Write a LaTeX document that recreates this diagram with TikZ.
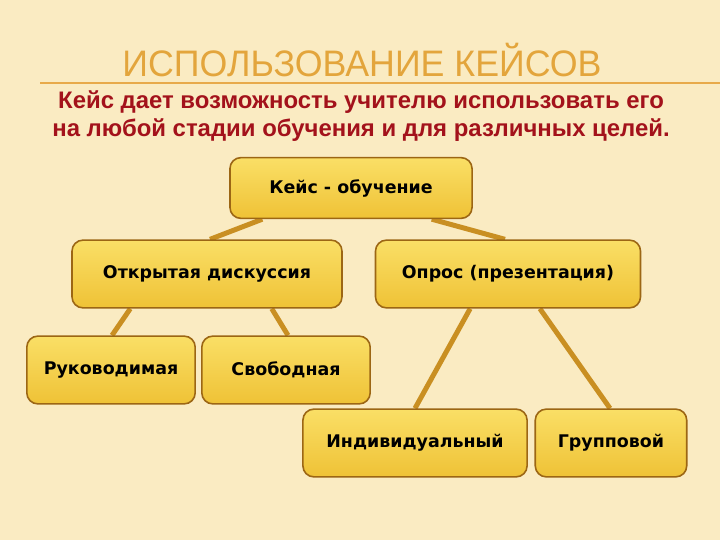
\documentclass[tikz,border=0pt]{standalone}
\usepackage{fontspec}
\setmainfont{Liberation Sans}
\newfontfamily\boxfont{DejaVu Sans}
\usetikzlibrary{positioning}
\pgfdeclarelayer{bg}
\pgfsetlayers{bg,main}
\definecolor{paper}{HTML}{FAEBC2}
\definecolor{titlegold}{HTML}{E3A53C}
\definecolor{rulegold}{HTML}{E8AA4A}
\definecolor{subred}{HTML}{A3121B}
\definecolor{linkgold}{HTML}{C98F22}
\definecolor{boxedge}{HTML}{9C6614}
\definecolor{boxtop}{HTML}{FADF66}
\definecolor{boxbot}{HTML}{EFC236}
\tikzset{casebox/.style = {draw=boxedge, line width=1.6pt, rounded corners=11pt,
                           top color=boxtop, bottom color=boxbot,
                           font=\boxfont\bfseries\fontsize{17.5}{20}\selectfont,
                           inner sep=0pt, text=black},
         link/.style = {linkgold, line width=5pt}}

\begin{document}
\begin{tikzpicture}[x=1bp, y=-1bp]
    \begin{pgfonlayer}{bg}
      \fill [paper] (0, 0) rectangle (720, 540);
    \end{pgfonlayer}
    \useasboundingbox (0, 0) rectangle (720, 540);

    \node (title) at (362, 60) [titlegold, font=\fontsize{37}{40}\selectfont]
        {\scalebox{0.97}[1]{ИСПОЛЬЗОВАНИЕ КЕЙСОВ}};
    \draw [rulegold, line width=1.5pt] (40, 83) -- (720, 83);
    \node (sub) at (361, 116) [subred, align=center,
        font=\bfseries\fontsize{24}{28}\selectfont]
        {Кейс дает возможность учителю использовать его\\
         на любой стадии обучения и для различных целей.};

    \node (kejs) at (351, 188) [casebox, minimum width=243, minimum height=61] {Кейс - обучение};
    \node (otkr) at (207, 274) [casebox, minimum width=271, minimum height=68] {Открытая дискуссия};
    \node (opros) at (508, 274) [casebox, minimum width=266, minimum height=68] {Опрос (презентация)};
    \node (ruk) at (111, 370) [casebox, minimum width=169, minimum height=68] {Руководимая};
    \node (svob) at (286, 370) [casebox, minimum width=169, minimum height=68] {Свободная};
    \node (ind) at (415, 443) [casebox, minimum width=225, minimum height=68] {Индивидуальный};
    \node (grup) at (611, 443) [casebox, minimum width=152, minimum height=68] {Групповой};

    \begin{pgfonlayer}{bg}
      \draw [link] ([xshift=-89]kejs.south) -- ([xshift=3]otkr.north);
      \draw [link] ([xshift=81]kejs.south) -- ([xshift=-3]opros.north);
      \draw [link] ([xshift=-77]otkr.south) -- ([xshift=1]ruk.north);
      \draw [link] ([xshift=65]otkr.south) -- ([xshift=2]svob.north);
      \draw [link] ([xshift=-38]opros.south) -- (ind.north);
      \draw [link] ([xshift=32]opros.south) -- ([xshift=-1]grup.north);
    \end{pgfonlayer}
  \end{tikzpicture}
\end{document}
